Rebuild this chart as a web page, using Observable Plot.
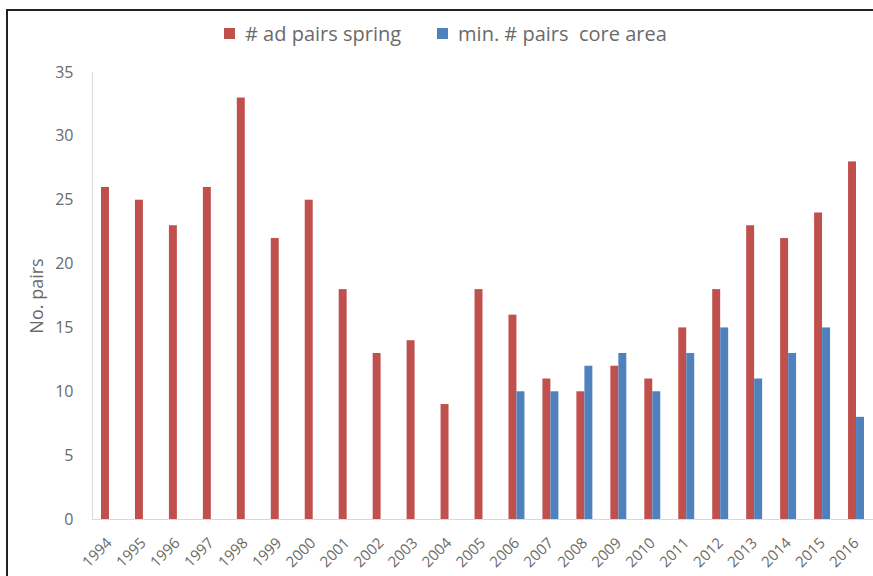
<!DOCTYPE html>
<html>
<head>
<meta charset="utf-8">
<script src="https://cdn.jsdelivr.net/npm/d3@7"></script>
<script src="https://cdn.jsdelivr.net/npm/@observablehq/plot@0.6"></script>
<style>
  html, body { margin: 0; padding: 0; background: #fff; overflow: hidden; }
  #wrap { position: relative; width: 873px; height: 576px; overflow: hidden; font-family: "Open Sans", Lato, sans-serif; }
  #frame { position: absolute; left: 6px; top: 9px; width: 867px; height: 567px; border-top: 2px solid #222; border-left: 2px solid #222; box-sizing: border-box; }
  #legend { position: absolute; top: 20px; left: 224px; display: flex; font-size: 20px; color: #6a6a6a; white-space: pre; }
  #legend span.item { display: flex; align-items: center; margin-right: 36px; }
  #legend span.sw { display: inline-block; width: 11px; height: 11px; margin-right: 10px; }
  #chart { position: absolute; left: 0; top: 0; width: 873px; height: 576px; }
  #chart svg { max-width: none; }
</style>
</head>
<body>
<div id="wrap">
  <div id="chart"></div>
  <div id="frame"></div>
  <div id="legend"></div>
</div>
<script>
const years = ["1994","1995","1996","1997","1998","1999","2000","2001","2002","2003","2004","2005","2006","2007","2008","2009","2010","2011","2012","2013","2014","2015","2016"];
const adPairsSpring = [26,25,23,26,33,22,25,18,13,14,9,18,16,11,10,12,11,15,18,23,22,24,28];
const coreYears = ["2006","2007","2008","2009","2010","2011","2012","2013","2014","2015","2016"];
const minPairsCore = [10,10,12,13,10,13,15,11,13,15,8];
const seriesNames = ["# ad pairs spring", "min. # pairs  core area"];
const seriesColors = ["#c0504d", "#4f81bd"];
const yTicks = [0,5,10,15,20,25,30,35];

const springData = years.map((y, i) => ({year: y, value: adPairsSpring[i]}));
const coreData = coreYears.map((y, i) => ({year: y, value: minPairsCore[i]}));

const textColor = "#6a6a6a";
const bw = (873 - 92) / years.length;

const chart = Plot.plot({
  width: 873,
  height: 576,
  marginLeft: 92,
  marginRight: 0,
  marginTop: 72,
  marginBottom: 57,
  style: {fontFamily: "'Open Sans', Lato, sans-serif", color: textColor, background: "transparent", maxWidth: "none"},
  x: {domain: years, padding: 0, round: false, label: null},
  y: {domain: [0, 35], label: null},
  marks: [
    Plot.ruleY([0], {stroke: "#d9d9d9"}),
    Plot.ruleX([years[0]], {dx: -bw / 2, stroke: "#d9d9d9"}),
    Plot.barY(springData, {x: "year", y: "value", fill: seriesColors[0], insetLeft: 9, insetRight: 17}),
    Plot.barY(coreData, {x: "year", y: "value", fill: seriesColors[1], insetLeft: 17, insetRight: 9}),
    Plot.axisY({ticks: yTicks, tickSize: 0, tickPadding: 19, fontSize: 16, fill: textColor, label: "No. pairs", labelAnchor: "center", labelOffset: 62, labelArrow: "none"}),
    Plot.axisX({tickSize: 0, tickRotate: -45, tickPadding: 21, fontSize: 15, fill: textColor, label: null})
  ]
});
document.getElementById("chart").appendChild(chart);

chart.querySelectorAll("g[aria-label='y-axis label'] text").forEach(t => { t.style.fontSize = "18px"; });

const legend = document.getElementById("legend");
seriesNames.forEach((name, i) => {
  const item = document.createElement("span");
  item.className = "item";
  const sw = document.createElement("span");
  sw.className = "sw";
  sw.style.background = seriesColors[i];
  item.appendChild(sw);
  item.appendChild(document.createTextNode(name));
  legend.appendChild(item);
});
</script>
</body>
</html>
